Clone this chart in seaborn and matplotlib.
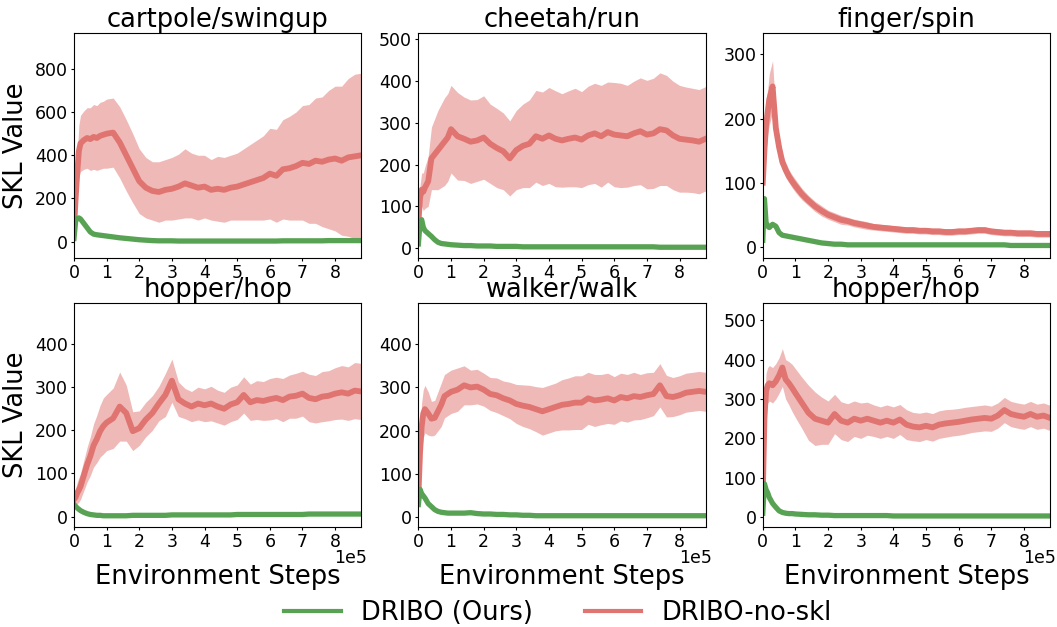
import matplotlib
matplotlib.use("Agg")
import matplotlib.pyplot as plt
import numpy as np
import pandas as pd
import seaborn as sns

# Environment steps (in units of 1e5)
STEPS_1E5 = [0, 0.05, 0.1, 0.15, 0.2, 0.3, 0.4, 0.5, 0.6, 0.7, 0.8, 0.9, 1.0,
             1.2, 1.4, 1.6, 1.8, 2.0, 2.2, 2.4, 2.6, 2.8, 3.0, 3.2, 3.4, 3.6, 3.8,
             4.0, 4.2, 4.4, 4.6, 4.8, 5.0, 5.2, 5.4, 5.6, 5.8, 6.0, 6.2, 6.4, 6.6,
             6.8, 7.0, 7.2, 7.4, 7.6, 7.8, 8.0, 8.2, 8.4, 8.6, 8.8]

TASKS = ["cartpole/swingup", "cheetah/run", "finger/spin",
         "hopper/hop", "walker/walk", "hopper/hop"]

# DRIBO-no-skl: mean and spread
cartpole_noskl = [60, 200, 320, 420, 455, 470, 480, 475, 485, 480, 490, 495, 500,
                  505, 460, 400, 340, 280, 250, 235, 230, 240, 245, 255, 270, 260, 250,
                  255, 240, 245, 240, 250, 255, 265, 275, 285, 295, 315, 305, 335, 340,
                  350, 365, 360, 375, 370, 380, 385, 375, 390, 395, 400]
cartpole_noskl_sd = [20, 60, 90, 120, 130, 135, 140, 145, 150, 150, 155, 155, 160,
                     160, 165, 165, 160, 150, 140, 135, 140, 140, 145, 150, 160, 150, 150,
                     145, 140, 150, 150, 150, 155, 165, 175, 185, 195, 210, 215, 230, 240,
                     250, 265, 275, 290, 300, 320, 335, 345, 365, 380, 380]
cartpole_dribo = [15, 95, 108, 110, 105, 85, 65, 45, 35, 32, 30, 28, 26,
                  22, 18, 15, 12, 9, 7, 5, 4, 4, 4, 3, 3, 3, 3,
                  3, 3, 3, 3, 3, 3, 3, 3, 3, 3, 3, 3, 4, 4,
                  4, 4, 4, 4, 4, 5, 5, 5, 5, 5, 5]

cheetah_noskl = [60, 120, 140, 135, 145, 160, 215, 225, 235, 245, 255, 265, 285,
                 268, 262, 255, 258, 265, 250, 240, 232, 215, 235, 245, 250, 268, 262,
                 270, 262, 258, 262, 265, 260, 270, 275, 268, 278, 272, 270, 268, 275,
                 280, 272, 275, 285, 282, 270, 262, 260, 258, 255, 262]
cheetah_noskl_sd = [10, 30, 40, 45, 50, 60, 75, 85, 95, 100, 105, 105, 105,
                    105, 100, 100, 98, 100, 95, 95, 92, 90, 95, 100, 105, 110, 112,
                    115, 115, 112, 115, 118, 115, 118, 120, 122, 120, 125, 125, 122, 125,
                    128, 130, 132, 135, 132, 130, 128, 126, 125, 125, 125]
cheetah_dribo = [10, 60, 68, 50, 42, 35, 28, 20, 14, 11, 10, 9, 8,
                 7, 6, 6, 5, 5, 5, 4, 4, 4, 4, 3, 3, 3, 3,
                 3, 3, 3, 3, 3, 3, 3, 3, 3, 3, 3, 3, 3, 3,
                 3, 3, 3, 2, 2, 2, 2, 2, 2, 2, 2]

finger_noskl = [100, 150, 190, 210, 230, 250, 185, 155, 132, 120, 110, 102, 95,
                82, 72, 63, 56, 50, 46, 42, 40, 37, 35, 33, 31, 30, 29,
                28, 27, 26, 26, 25, 25, 24, 24, 23, 23, 24, 24, 25, 26,
                26, 24, 23, 22, 22, 21, 21, 21, 20, 20, 20]
finger_noskl_sd = [20, 40, 40, 35, 40, 40, 20, 15, 12, 12, 10, 10, 10,
                   9, 8, 8, 8, 7, 7, 7, 6, 6, 6, 6, 5, 5, 5,
                   5, 5, 5, 5, 5, 5, 5, 5, 5, 5, 5, 5, 5, 5,
                   5, 5, 5, 5, 5, 5, 5, 5, 5, 5, 5]
finger_dribo = [10, 75, 38, 32, 30, 35, 32, 22, 18, 17, 16, 15, 14,
                12, 10, 8, 6, 5, 4, 4, 3, 3, 3, 3, 3, 3, 3,
                3, 3, 3, 3, 3, 3, 3, 3, 3, 3, 3, 3, 3, 3,
                3, 3, 3, 3, 2, 2, 2, 2, 2, 2, 2]

hopper_noskl = [40, 45, 55, 62, 70, 95, 120, 140, 165, 180, 198, 210, 218,
                228, 255, 240, 198, 205, 225, 240, 262, 282, 315, 272, 262, 255, 262,
                258, 262, 255, 250, 260, 265, 282, 265, 270, 268, 272, 275, 270, 278,
                280, 285, 275, 272, 278, 280, 285, 288, 285, 292, 290]
hopper_noskl_sd = [15, 20, 25, 28, 30, 35, 40, 45, 50, 55, 60, 65, 65,
                   70, 80, 65, 45, 40, 40, 40, 40, 50, 50, 40, 35, 35, 38,
                   38, 40, 38, 38, 40, 40, 42, 42, 45, 45, 48, 48, 50, 50,
                   52, 52, 55, 55, 58, 58, 60, 62, 62, 65, 65]
hopper_dribo = [28, 24, 20, 17, 14, 10, 7, 5, 4, 3, 3, 2, 2,
                2, 2, 2, 3, 3, 3, 3, 3, 3, 4, 4, 4, 4, 4,
                4, 4, 4, 4, 4, 5, 5, 5, 5, 5, 5, 5, 5, 5,
                5, 5, 6, 6, 6, 6, 6, 6, 6, 6, 6]

walker_noskl = [50, 150, 210, 240, 250, 240, 228, 230, 245, 260, 280, 285, 290,
                295, 305, 300, 302, 295, 285, 282, 275, 270, 262, 258, 255, 250, 245,
                250, 255, 260, 262, 265, 265, 275, 270, 272, 275, 270, 278, 275, 280,
                278, 282, 285, 305, 280, 278, 282, 288, 290, 292, 290]
walker_noskl_sd = [30, 50, 55, 55, 55, 50, 40, 40, 45, 50, 50, 50, 50,
                   50, 45, 40, 40, 38, 38, 40, 40, 42, 45, 48, 50, 52, 55,
                   55, 55, 58, 60, 62, 62, 60, 60, 58, 58, 55, 55, 55, 55,
                   52, 52, 50, 50, 48, 45, 45, 45, 45, 45, 45]
walker_dribo = [30, 65, 55, 50, 45, 32, 25, 18, 14, 12, 11, 10, 10,
                10, 10, 11, 9, 8, 8, 7, 7, 6, 6, 5, 5, 4, 4,
                4, 4, 4, 4, 4, 4, 4, 4, 4, 4, 4, 4, 4, 4,
                4, 4, 4, 4, 4, 4, 4, 4, 4, 4, 4]

hopper2_noskl = [60, 250, 320, 335, 340, 335, 345, 360, 380, 350, 340, 328, 315,
                 290, 265, 250, 245, 240, 262, 245, 240, 250, 245, 250, 245, 240, 245,
                 240, 248, 235, 230, 228, 232, 228, 235, 238, 240, 242, 245, 248, 250,
                 252, 250, 258, 272, 262, 258, 255, 262, 255, 258, 252]
hopper2_noskl_sd = [20, 40, 45, 45, 45, 45, 45, 45, 48, 50, 55, 60, 62,
                    65, 70, 68, 60, 55, 50, 48, 48, 45, 45, 42, 40, 40, 40,
                    40, 38, 38, 36, 36, 35, 35, 35, 35, 34, 34, 34, 33, 33,
                    33, 32, 32, 32, 32, 32, 32, 32, 32, 32, 32]
hopper2_dribo = [10, 85, 70, 62, 50, 35, 25, 16, 12, 10, 9, 9, 8,
                 7, 6, 6, 5, 5, 4, 4, 4, 4, 4, 4, 4, 4, 4,
                 3, 3, 3, 3, 3, 3, 3, 3, 3, 3, 3, 3, 3, 3,
                 3, 3, 3, 3, 3, 3, 3, 3, 3, 3, 3]

NOSKL = [cartpole_noskl, cheetah_noskl, finger_noskl, hopper_noskl, walker_noskl, hopper2_noskl]
NOSKL_SD = [cartpole_noskl_sd, cheetah_noskl_sd, finger_noskl_sd,
            hopper_noskl_sd, walker_noskl_sd, hopper2_noskl_sd]
DRIBO = [cartpole_dribo, cheetah_dribo, finger_dribo, hopper_dribo, walker_dribo, hopper2_dribo]

YLIMS = [(-74, 965), (-23, 515), (-17, 333), (-24, 496), (-22, 496), (-25, 545)]

GREEN = "#58a353"
RED = "#e07470"

steps = np.array(STEPS_1E5) * 1e5

fig, axes = plt.subplots(2, 3, figsize=(10.57, 6.27), dpi=100)
plt.subplots_adjust(left=0.070, right=0.9934, top=0.947, bottom=0.1595, wspace=0.199, hspace=0.2)

for i, ax in enumerate(axes.flatten()):
    df = pd.DataFrame({
        "step": steps,
        "noskl": NOSKL[i],
        "sd": NOSKL_SD[i],
        "dribo": DRIBO[i],
    })

    # Полоса разброса для DRIBO-no-skl
    ax.fill_between(df["step"], df["noskl"] - df["sd"], df["noskl"] + df["sd"],
                    color=RED, alpha=0.5, linewidth=0)
    sns.lineplot(data=df, x="step", y="noskl", ax=ax, color=RED, linewidth=4.2,
                 label="DRIBO-no-skl", legend=False)
    sns.lineplot(data=df, x="step", y="dribo", ax=ax, color=GREEN, linewidth=3.8,
                 label="DRIBO (Ours)", legend=False)

    ax.set_xlim(0, 8.8e5)
    ax.set_ylim(*YLIMS[i])
    ax.set_title(TASKS[i], fontsize=18.5, pad=0.5)
    ax.tick_params(labelsize=12.5, length=2.5, pad=2)
    ax.set_xticks(np.arange(0, 9) * 1e5)
    ax.set_xticklabels([str(k) for k in range(9)])

    row, col = divmod(i, 3)
    ax.set_ylabel("SKL Value" if col == 0 else "", fontsize=18.5)
    if row == 0:
        ax.set_xlabel("")
    else:
        ax.set_xlabel("Environment Steps", fontsize=18.5, labelpad=9.5)
        # множитель оси X, как в оригинале
        ax.text(1.021, -0.136, "1e5", transform=ax.transAxes, ha="right", va="center",
                fontsize=12.5)

# Общая легенда снизу
handles, labels = axes[0, 0].get_legend_handles_labels()
order = [labels.index("DRIBO (Ours)"), labels.index("DRIBO-no-skl")]
leg = fig.legend([handles[j] for j in order], [labels[j] for j in order],
                 loc="lower center", bbox_to_anchor=(0.528, -0.035), ncol=2,
                 frameon=False, fontsize=18.5, columnspacing=2.0, handlelength=2.2)
for line in leg.get_lines():
    line.set_linewidth(3)

plt.savefig("out.png", dpi=100)
plt.close()
